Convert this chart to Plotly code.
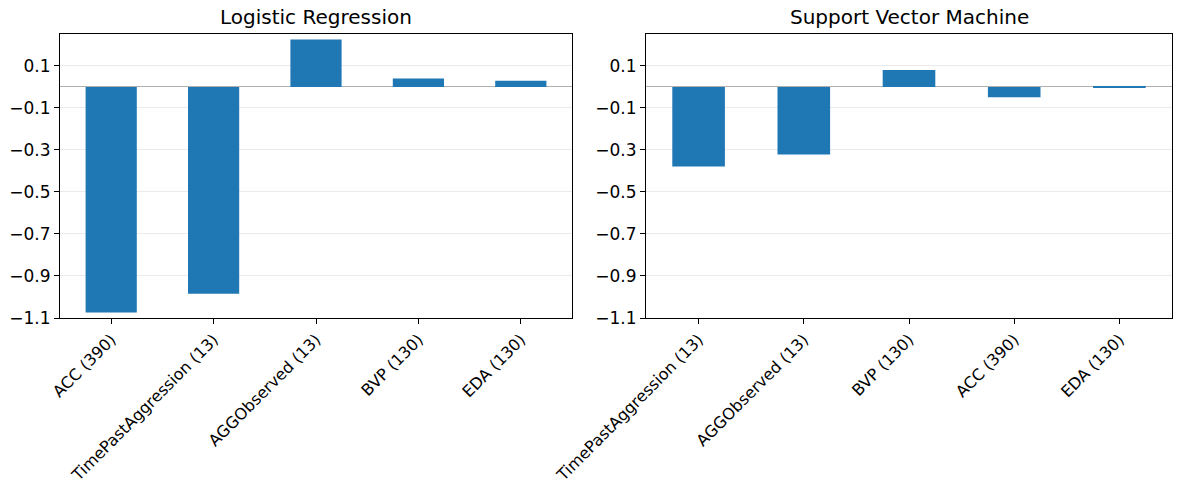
import plotly.graph_objects as go

lr_features = ["ACC (390)", "TimePastAggression (13)", "AGGObserved (13)", "BVP (130)", "EDA (130)"]
lr_values = [-1.074, -0.985, 0.226, 0.040, 0.030]

svm_features = ["TimePastAggression (13)", "AGGObserved (13)", "BVP (130)", "ACC (390)", "EDA (130)"]
svm_values = [-0.379, -0.322, 0.081, -0.049, -0.003]

titles = ["Logistic Regression", "Support Vector Machine"]
tick_vals = [0.1, -0.1, -0.3, -0.5, -0.7, -0.9, -1.1]
tick_text = [f"{v:.1f}".replace("-", "\u2212") for v in tick_vals]

W, H = 1184, 490
font = "DejaVu Sans"

fig = go.Figure()
fig.add_trace(go.Bar(x=list(range(len(lr_features))), y=lr_values, width=0.5,
                     marker=dict(color="#1f77b4", line=dict(width=0)), xaxis="x", yaxis="y"))
fig.add_trace(go.Bar(x=list(range(len(svm_features))), y=svm_values, width=0.5,
                     marker=dict(color="#1f77b4", line=dict(width=0)), xaxis="x2", yaxis="y2"))

dom_y = [1 - 318 / H, 1 - 34 / H]
doms_x = [[60 / W, 572 / W], [646 / W, 1172 / W]]

def xaxis(dom, labels, anchor):
    return dict(domain=dom, range=[-0.5, len(labels) - 0.5], tickvals=list(range(len(labels))),
                ticktext=labels, tickangle=-45, ticks="outside", ticklen=5, tickcolor="black",
                showline=True, linecolor="black", linewidth=1.2, mirror=True, showgrid=False,
                zeroline=False, anchor=anchor, automargin=False,
                tickfont=dict(family=font, size=16, color="black"))

def yaxis(anchor):
    return dict(domain=dom_y, range=[-1.1, 0.252], tickvals=tick_vals, ticktext=tick_text,
                ticks="outside", ticklen=5, tickcolor="black", showline=True, linecolor="black",
                linewidth=1.2, mirror=True, showgrid=True, gridcolor="#ebebeb", gridwidth=0.8,
                zeroline=True, zerolinecolor="#b0b0b0", zerolinewidth=1.2, anchor=anchor,
                automargin=False, tickfont=dict(family=font, size=17, color="black"))

fig.update_layout(
    width=W, height=H, margin=dict(l=0, r=0, t=0, b=0),
    plot_bgcolor="white", paper_bgcolor="white", showlegend=False,
    xaxis=xaxis(doms_x[0], lr_features, "y"),
    yaxis=yaxis("x"),
    xaxis2=xaxis(doms_x[1], svm_features, "y2"),
    yaxis2=yaxis("x2"),
    annotations=[
        dict(text=titles[i], x=(doms_x[i][0] + doms_x[i][1]) / 2, y=1 - 17 / H, xref="paper", yref="paper",
             showarrow=False, xanchor="center", yanchor="middle",
             font=dict(family=font, size=20, color="black"))
        for i in range(2)
    ],
)

fig.write_html("out.html")
